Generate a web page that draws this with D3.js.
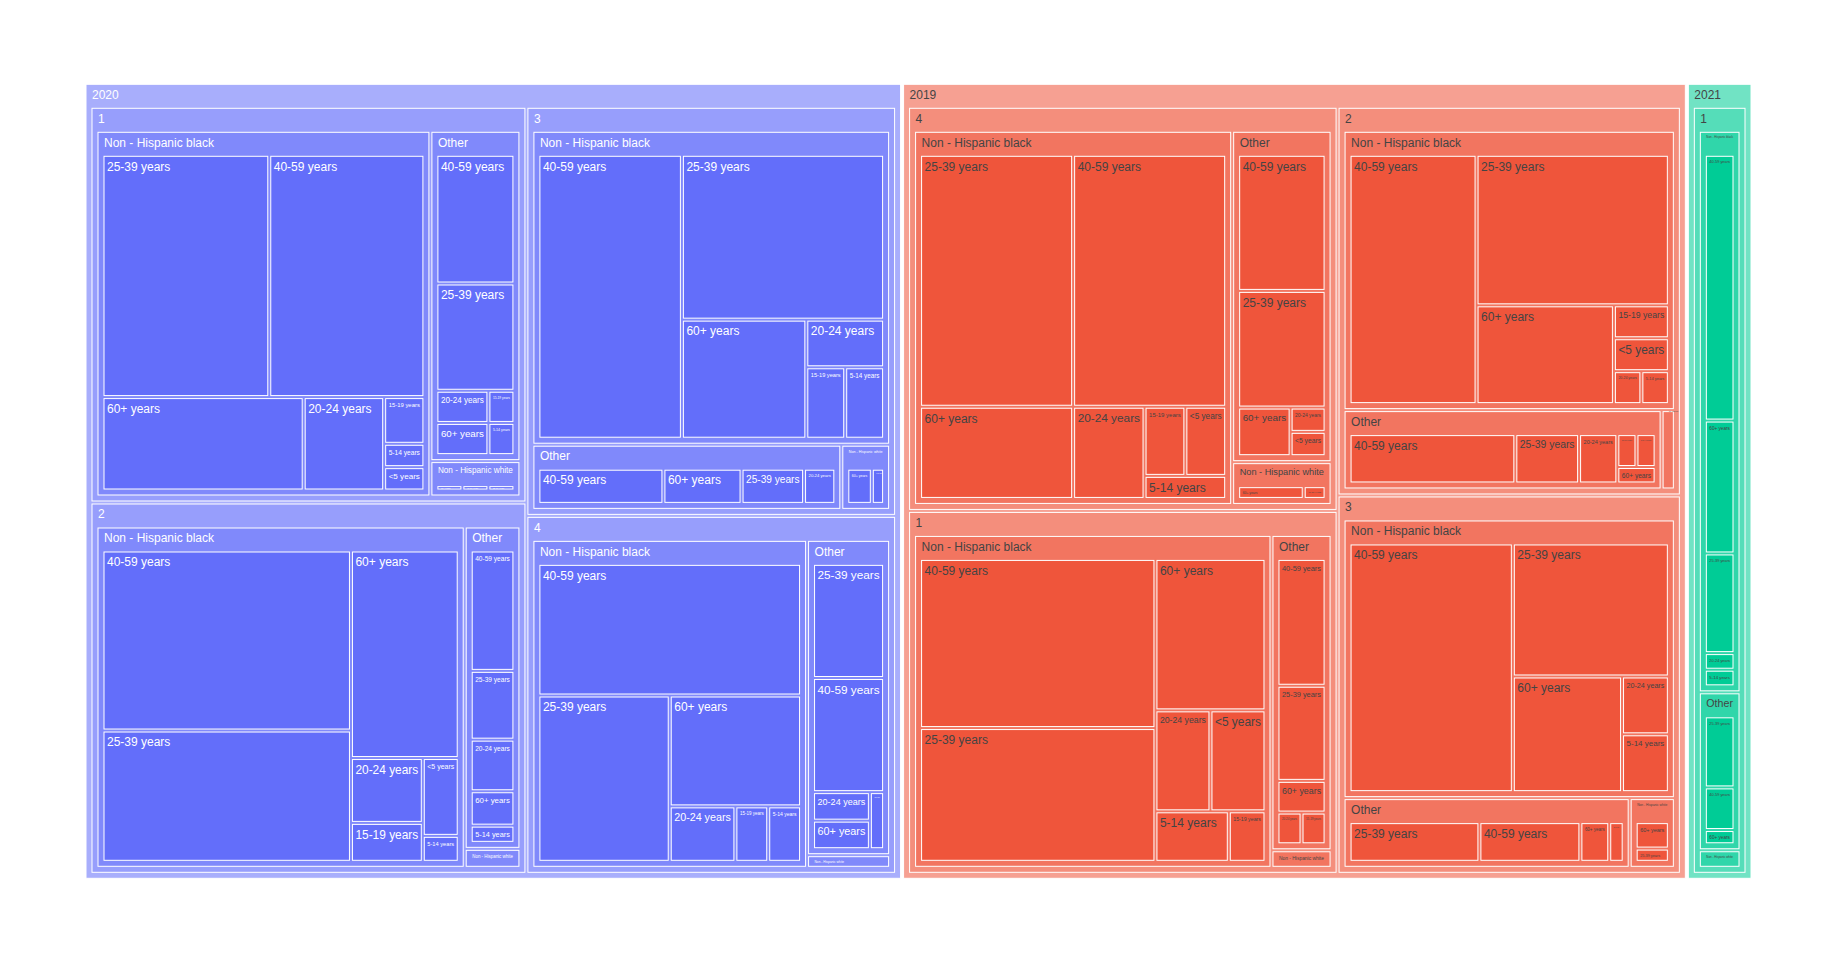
<!DOCTYPE html>
<html>
<head>
<meta charset="utf-8">
<script src="https://cdn.jsdelivr.net/npm/d3@7"></script>
<style>
  html, body { margin: 0; padding: 0; background: #fff; }
  svg { display: block; }
</style>
</head>
<body>
<svg id="chart" width="1837" height="965"></svg>
<script>
// ---------------- data (one entry per leaf) ----------------
const yearCol = [
  "2020","2020","2020","2020","2020","2020","2020",
  "2020","2020","2020","2020","2020","2020",
  "2020","2020","2020",
  "2020","2020","2020","2020","2020","2020","2020",
  "2020","2020","2020","2020","2020",
  "2020",
  "2020","2020","2020","2020","2020","2020",
  "2020","2020","2020","2020",
  "2020","2020",
  "2020","2020","2020","2020","2020","2020",
  "2020","2020","2020","2020","2020",
  "2020",
  "2019","2019","2019","2019","2019","2019","2019",
  "2019","2019","2019","2019","2019",
  "2019","2019",
  "2019","2019","2019","2019","2019","2019","2019",
  "2019","2019","2019","2019","2019",
  "2019",
  "2019","2019","2019","2019","2019","2019","2019",
  "2019","2019","2019","2019","2019","2019",
  "2019",
  "2019","2019","2019","2019","2019",
  "2019","2019","2019","2019",
  "2019","2019",
  "2021","2021","2021","2021","2021",
  "2021","2021","2021",
  "2021"
];
const quarterCol = [
  "1","1","1","1","1","1","1",
  "1","1","1","1","1","1",
  "1","1","1",
  "2","2","2","2","2","2","2",
  "2","2","2","2","2",
  "2",
  "3","3","3","3","3","3",
  "3","3","3","3",
  "3","3",
  "4","4","4","4","4","4",
  "4","4","4","4","4",
  "4",
  "4","4","4","4","4","4","4",
  "4","4","4","4","4",
  "4","4",
  "1","1","1","1","1","1","1",
  "1","1","1","1","1",
  "1",
  "2","2","2","2","2","2","2",
  "2","2","2","2","2","2",
  "2",
  "3","3","3","3","3",
  "3","3","3","3",
  "3","3",
  "1","1","1","1","1",
  "1","1","1",
  "1"
];
const B = "Non - Hispanic black", O = "Other", Wh = "Non - Hispanic white";
const ethnicityCol = [
  B,B,B,B,B,B,B, O,O,O,O,O,O, Wh,Wh,Wh,
  B,B,B,B,B,B,B, O,O,O,O,O, Wh,
  B,B,B,B,B,B, O,O,O,O, Wh,Wh,
  B,B,B,B,B,B, O,O,O,O,O, Wh,
  B,B,B,B,B,B,B, O,O,O,O,O, Wh,Wh,
  B,B,B,B,B,B,B, O,O,O,O,O, Wh,
  B,B,B,B,B,B,B, O,O,O,O,O,O, Wh,
  B,B,B,B,B, O,O,O,O, Wh,Wh,
  B,B,B,B,B, O,O,O, Wh
];
const ageCol = [
  // 2020 Q1
  "25-39 years","40-59 years","60+ years","20-24 years","15-19 years","5-14 years","<5 years",
  "40-59 years","25-39 years","20-24 years","60+ years","15-19 years","5-14 years",
  "60+ years","40-59 years","25-39 years",
  // 2020 Q2
  "40-59 years","25-39 years","60+ years","20-24 years","15-19 years","<5 years","5-14 years",
  "40-59 years","25-39 years","20-24 years","60+ years","5-14 years",
  "60+ years",
  // 2020 Q3
  "40-59 years","25-39 years","60+ years","20-24 years","15-19 years","5-14 years",
  "40-59 years","60+ years","25-39 years","20-24 years",
  "60+ years","40-59 years",
  // 2020 Q4
  "40-59 years","25-39 years","60+ years","20-24 years","15-19 years","5-14 years",
  "25-39 years","40-59 years","20-24 years","60+ years","15-19 years",
  "60+ years",
  // 2019 Q4
  "25-39 years","40-59 years","60+ years","20-24 years","15-19 years","<5 years","5-14 years",
  "40-59 years","25-39 years","60+ years","20-24 years","<5 years",
  "60+ years","40-59 years",
  // 2019 Q1
  "40-59 years","25-39 years","60+ years","20-24 years","<5 years","5-14 years","15-19 years",
  "40-59 years","25-39 years","60+ years","20-24 years","15-19 years",
  "60+ years",
  // 2019 Q2
  "40-59 years","25-39 years","60+ years","15-19 years","<5 years","20-24 years","5-14 years",
  "40-59 years","25-39 years","20-24 years","15-19 years","5-14 years","60+ years",
  "60+ years",
  // 2019 Q3
  "40-59 years","25-39 years","60+ years","20-24 years","5-14 years",
  "25-39 years","40-59 years","60+ years","20-24 years",
  "60+ years","25-39 years",
  // 2021 Q1
  "40-59 years","60+ years","25-39 years","20-24 years","5-14 years",
  "25-39 years","40-59 years","60+ years",
  "60+ years"
];
const countCol = [
  43,40,20,8,2,1,1,  12,10,2,2,1,1,  1,1,1,
  48,35,24,5,3,3,1,  7,4,3,2,1,  1,
  44,36,16,4,3,3,  8,5,4,2,  2,1,
  38,24,16,4,2,2,  10,10,2,2,1,  1,
  41,41,15,7,3,3,2,  14,12,3,1,1,  3,1,
  43,34,18,6,6,4,2,  8,6,2,1,1,  1,
  35,32,15,2,2,1,1,  13,5,3,1,1,1,  1,
  45,23,14,3,3,  9,7,2,1,  2,1,
  16,8,6,1,1,  5,3,1,  1
];
const years = ["2020","2019","2021"];
const yearColors = ["#636efa","#EF553B","#00cc96"];
const yearTextColors = ["#ffffff","#444444","#444444"];

// ---------------- build hierarchy ----------------
const rows = countCol.map((c, i) => ({
  year: yearCol[i], quarter: quarterCol[i], eth: ethnicityCol[i], age: ageCol[i], count: c
}));
const grouped = d3.group(rows, d => d.year, d => d.quarter, d => d.eth);

const root = d3.hierarchy(["", grouped], ([k, v]) => {
    if (v instanceof Map) return Array.from(v);
    if (Array.isArray(v)) return v.map(r => [r.age, r]);
    return null;
  })
  .sum(([k, v]) => (v && !(v instanceof Map) && !Array.isArray(v)) ? v.count : 0)
  .sort((a, b) => b.value - a.value);

const OX = 86, OY = 84.3, W = 1665, H = 794;
d3.treemap()
  .size([W, H])
  .tile(d3.treemapSquarify.ratio(1))
  .paddingInner(3)
  .paddingTop(d => d.depth === 0 ? 0 : 24)
  .paddingLeft(d => d.depth === 0 ? 0 : 6)
  .paddingRight(d => d.depth === 0 ? 0 : 6)
  .paddingBottom(d => d.depth === 0 ? 0 : 6)(root);

// ---------------- colours (depth fade towards white) ----------------
function fadeFill(base, height) {
  const c = d3.rgb(base);
  const faded = { r: c.r * 0.25 + 255 * 0.75, g: c.g * 0.25 + 255 * 0.75, b: c.b * 0.25 + 255 * 0.75 };
  let f = { r: c.r, g: c.g, b: c.b };
  const n = height + 1;
  for (let i = 0; i < n; i++) {
    const t = 0.5 * i / n;
    f = { r: f.r * (1 - t) + faded.r * t, g: f.g * (1 - t) + faded.g * t, b: f.b * (1 - t) + faded.b * t };
  }
  return d3.rgb(Math.round(f.r), Math.round(f.g), Math.round(f.b)).formatHex();
}
function yearIndex(d) {
  let a = d;
  while (a.depth > 1) a = a.parent;
  return years.indexOf(a.data[0]);
}

// ---------------- draw ----------------
const FONT = "'Liberation Sans', Arial, Helvetica, sans-serif";
const FS = 12, ASC = 0.905, TH = 1.117 * FS, TEXTPAD = 3;
const ctx = document.createElement("canvas").getContext("2d");
ctx.font = FS + "px " + FONT;

const svg = d3.select("#chart");
const g = svg.append("g").attr("transform", `translate(${OX},${OY})`);
const nodes = root.descendants().filter(d => d.depth > 0);

g.selectAll("rect.node")
  .data(nodes)
  .join("rect")
  .attr("class", "node")
  .attr("x", d => d.x0)
  .attr("y", d => d.y0)
  .attr("width", d => Math.max(0, d.x1 - d.x0))
  .attr("height", d => Math.max(0, d.y1 - d.y0))
  .attr("fill", d => fadeFill(yearColors[yearIndex(d)], d.height))
  .attr("stroke", "#ffffff")
  .attr("stroke-width", 1);

function labelLayout(d) {
  const label = d.data[0];
  const tw = ctx.measureText(label).width;
  let x0 = d.x0, x1 = d.x1, y0 = d.y0, y1 = d.y1;
  if (d.children) {
    x0 += 6 - TEXTPAD;
    x1 -= 6 - TEXTPAD;
    if (x0 >= x1) { const m = (x0 + x1) / 2; x0 = m; x1 = m; }
    const limY = y0 + 24;
    if (y0 < limY && limY < y1) y1 = limY;
  }
  let lx = Math.abs(x1 - x0), ly = Math.abs(y1 - y0);
  const tp = (lx > 2 * TEXTPAD && ly > 2 * TEXTPAD) ? TEXTPAD : 0;
  lx -= 2 * tp; ly -= 2 * tp;
  const scale = Math.min(1, lx / tw, ly / TH);
  return { label, scale, x: x0 + TEXTPAD, top: y0 + tp };
}

const labels = nodes.map(d => ({ d, L: labelLayout(d) })).filter(o => o.L.scale > 0.02);
g.selectAll("text.lbl")
  .data(labels)
  .join("text")
  .attr("class", "lbl")
  .attr("x", o => o.L.x)
  .attr("y", o => o.L.top + o.L.scale * ASC * FS + 0.4)
  .attr("font-family", FONT)
  .attr("font-size", o => Math.max(1, FS * o.L.scale).toFixed(2) + "px")
  .attr("fill", o => yearTextColors[yearIndex(o.d)])
  .text(o => o.L.label);
</script>
</body>
</html>
